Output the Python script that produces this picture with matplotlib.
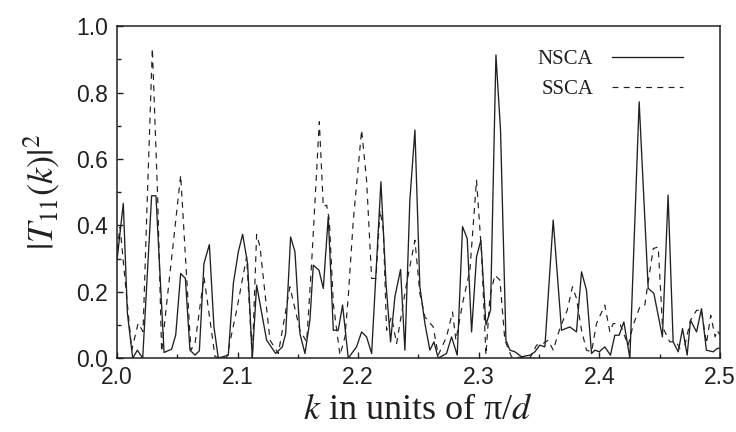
import matplotlib
matplotlib.use("Agg")
import matplotlib.pyplot as plt
from matplotlib.ticker import MultipleLocator, FormatStrFormatter

# NSCA transmission |T11(k)|^2
k_nsca = [2.0000, 2.0052, 2.0086, 2.0130, 2.0169, 2.0213, 2.0287, 2.0323, 2.0390,
          2.0453, 2.0487, 2.0528, 2.0567, 2.0605, 2.0647, 2.0683, 2.0721,
          2.0766, 2.0804, 2.0840, 2.0923, 2.0965, 2.1006, 2.1042, 2.1083, 2.1122,
          2.1158, 2.1241, 2.1316, 2.1371, 2.1399, 2.1440, 2.1476, 2.1517, 2.1559,
          2.1600, 2.1628, 2.1675, 2.1711, 2.1752, 2.1794, 2.1835, 2.1871, 2.1918,
          2.1987, 2.2029, 2.2070, 2.2112, 2.2189, 2.2231, 2.2269, 2.2305, 2.2352,
          2.2388, 2.2429, 2.2471, 2.2512, 2.2554, 2.2595, 2.2629, 2.2664, 2.2733,
          2.2775, 2.2822, 2.2866, 2.2905, 2.2941, 2.2982, 2.3018, 2.3060, 2.3098,
          2.3143, 2.3181, 2.3226, 2.3259, 2.3301, 2.3356, 2.3425, 2.3466, 2.3507,
          2.3549, 2.3618, 2.3687, 2.3756, 2.3811, 2.3853, 2.3894, 2.3936, 2.3964,
          2.4000, 2.4046, 2.4093, 2.4129, 2.4165, 2.4204, 2.4254, 2.4331, 2.4406,
          2.4453, 2.4524, 2.4571, 2.4613, 2.4655, 2.4691, 2.4729, 2.4757, 2.4807,
          2.4848, 2.4889, 2.4945, 2.4978, 2.5000]
t_nsca = [0.295, 0.466, 0.135, 0.000, 0.024, 0.000, 0.489, 0.489, 0.017,
          0.027, 0.070, 0.255, 0.240, 0.024, 0.009, 0.022, 0.285,
          0.342, 0.094, 0.000, 0.009, 0.225, 0.320, 0.373, 0.285, 0.000,
          0.220, 0.054, 0.014, 0.034, 0.074, 0.365, 0.320, 0.074, 0.014,
          0.114, 0.280, 0.265, 0.210, 0.426, 0.084, 0.084, 0.160, 0.000,
          0.034, 0.079, 0.064, 0.014, 0.531, 0.225, 0.049, 0.185, 0.267,
          0.024, 0.476, 0.687, 0.215, 0.104, 0.024, 0.049, 0.000, 0.014,
          0.064, 0.009, 0.396, 0.360, 0.079, 0.305, 0.355, 0.100, 0.144,
          0.913, 0.687, 0.054, 0.024, 0.019, 0.004, 0.009, 0.019, 0.039,
          0.034, 0.416, 0.084, 0.094, 0.079, 0.260, 0.205, 0.014, 0.024,
          0.019, 0.034, 0.009, 0.069, 0.069, 0.109, 0.000, 0.772, 0.210,
          0.195, 0.064, 0.491, 0.049, 0.019, 0.089, 0.009, 0.114, 0.079,
          0.149, 0.024, 0.019, 0.029, 0.030]

# SSCA transmission |T11(k)|^2
k_ssca = [2.0000, 2.0025, 2.0122, 2.0175, 2.0216, 2.0246, 2.0293, 2.0337,
          2.0370, 2.0412, 2.0528, 2.0613, 2.0647, 2.0721, 2.0813, 2.0909, 2.0992,
          2.1075, 2.1122, 2.1158, 2.1186, 2.1269, 2.1338, 2.1434, 2.1517, 2.1573,
          2.1614, 2.1678, 2.1711, 2.1739, 2.1761, 2.1794, 2.1849, 2.1891, 2.1918,
          2.1960, 2.2029, 2.2070, 2.2112, 2.2148, 2.2181, 2.2209, 2.2236, 2.2277,
          2.2319, 2.2360, 2.2402, 2.2471, 2.2512, 2.2554, 2.2623, 2.2664, 2.2733,
          2.2783, 2.2811, 2.2872, 2.2927, 2.2982, 2.3024, 2.3060, 2.3093, 2.3134,
          2.3176, 2.3217, 2.3272, 2.3425, 2.3480, 2.3535, 2.3577, 2.3618, 2.3673,
          2.3734, 2.3778, 2.3811, 2.3853, 2.3894, 2.3936, 2.3977, 2.4046, 2.4088,
          2.4116, 2.4171, 2.4240, 2.4281, 2.4337, 2.4378, 2.4406, 2.4448, 2.4489,
          2.4525, 2.4585, 2.4640, 2.4668, 2.4710, 2.4757, 2.4807, 2.4848, 2.4889,
          2.4925, 2.4961, 2.4978, 2.5000]
t_ssca = [0.325, 0.395, 0.024, 0.105, 0.080, 0.426, 0.933, 0.486,
          0.019, 0.165, 0.551, 0.024, 0.044, 0.245, 0.004, 0.000, 0.144,
          0.305, 0.000, 0.373, 0.335, 0.054, 0.014, 0.215, 0.084, 0.049,
          0.285, 0.712, 0.456, 0.461, 0.416, 0.165, 0.009, 0.064, 0.185,
          0.416, 0.687, 0.536, 0.240, 0.240, 0.446, 0.386, 0.084, 0.124,
          0.044, 0.134, 0.225, 0.355, 0.195, 0.124, 0.094, 0.009, 0.064,
          0.139, 0.054, 0.175, 0.265, 0.536, 0.315, 0.009, 0.185, 0.250,
          0.235, 0.054, 0.004, 0.000, 0.039, 0.044, 0.054, 0.024, 0.089,
          0.144, 0.215, 0.180, 0.084, 0.024, 0.019, 0.104, 0.160, 0.079,
          0.104, 0.104, 0.039, 0.099, 0.155, 0.160, 0.230, 0.330, 0.335,
          0.094, 0.049, 0.049, 0.029, 0.039, 0.114, 0.144, 0.144, 0.044,
          0.129, 0.064, 0.084, 0.070]

ink = "#231f20"
plt.rcParams["mathtext.fontset"] = "stix"

fig = plt.figure(figsize=(7.36, 4.32), dpi=100)
ax = fig.add_axes([0.159, 0.171, 0.819, 0.7685])

ax.plot(k_nsca, t_nsca, color=ink, lw=0.95, label="NSCA")
ax.plot(k_ssca, t_ssca, color=ink, lw=0.85, dashes=(5, 4.5), label="SSCA")

ax.set_xlim(2.0, 2.5)
ax.set_ylim(0.0, 1.0)
ax.xaxis.set_major_locator(MultipleLocator(0.1))
ax.xaxis.set_minor_locator(MultipleLocator(0.05))
ax.yaxis.set_major_locator(MultipleLocator(0.2))
ax.yaxis.set_minor_locator(MultipleLocator(0.1))
ax.xaxis.set_major_formatter(FormatStrFormatter("%.1f"))
ax.yaxis.set_major_formatter(FormatStrFormatter("%.1f"))
ax.tick_params(which="both", direction="in", colors=ink, width=1.0)
ax.tick_params(which="major", length=4, labelsize=16.5)
ax.tick_params(axis="x", which="major", pad=6)
ax.tick_params(axis="y", which="major", pad=6.5)
ax.tick_params(which="minor", length=3)
for lab in ax.get_xticklabels() + ax.get_yticklabels():
    lab.set_fontfamily("Liberation Sans")
for sp in ax.spines.values():
    sp.set_linewidth(1.1)
    sp.set_color(ink)

ax.set_xlabel(r"$k$ in units of π/$d$", fontsize=26, fontfamily="Liberation Serif",
              color=ink, labelpad=3)
ax.set_ylabel(r"$|T_{11}(k)|^{2}$", fontsize=26, color=ink, labelpad=10)

leg = ax.legend(loc="upper right", bbox_to_anchor=(0.97, 0.985), frameon=False,
                markerfirst=False, handlelength=3.4, handletextpad=0.9,
                labelspacing=0.5, prop={"family": "Liberation Serif", "size": 15})
for txt in leg.get_texts():
    txt.set_color(ink)

fig.savefig("out.png", dpi=100)
